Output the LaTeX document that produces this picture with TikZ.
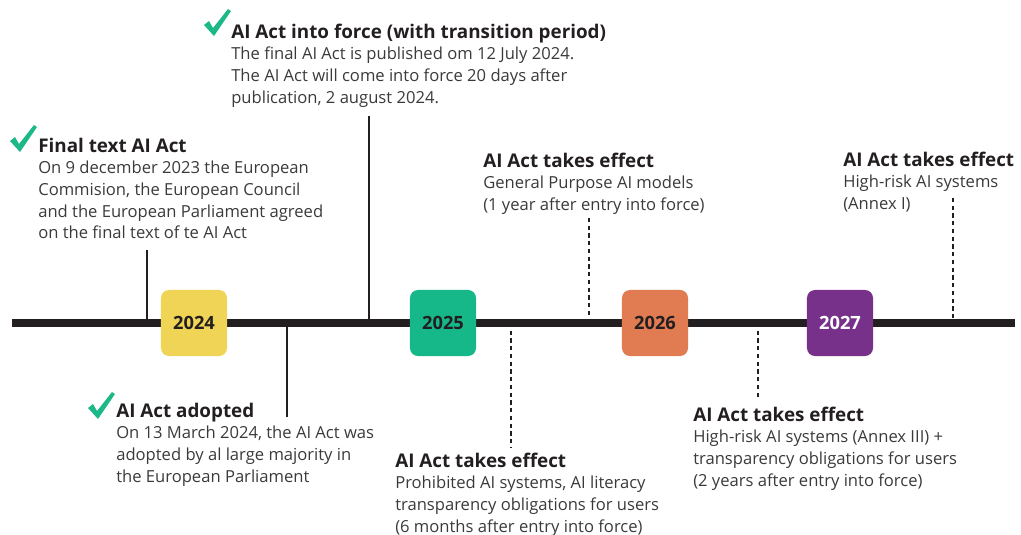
\documentclass[tikz,border=0pt]{standalone}
\usepackage{fontspec}
\setmainfont{Open Sans}
\usetikzlibrary{positioning}
\definecolor{ink}{HTML}{231F20}
\definecolor{bodygray}{HTML}{3A3A3A}
\definecolor{checkgreen}{HTML}{1DB887}
\definecolor{yr24}{HTML}{F0D455}
\definecolor{yr25}{HTML}{16B88A}
\definecolor{yr26}{HTML}{E07B52}
\definecolor{yr27}{HTML}{77318A}
\newcommand{\head}[1]{{\rule{0pt}{11.3pt}\fontsize{13.4}{15.4}\selectfont\bfseries\color{ink}#1}}
\tikzset{okmark/.pic={\fill[checkgreen] (0,16) -- (5,12) -- (9,19) -- (24,0) -- (27,2) -- (10,27) -- cycle;}}
\begin{document}
\begin{tikzpicture}[x=0.025cm, y=-0.025cm,
  year/.style={rounded corners=2mm, minimum size=1.65cm, inner sep=0pt, font=\fontsize{13}{15}\selectfont\bfseries, text=ink},
  event/.style={anchor=north west, align=left, inner sep=0pt, text=bodygray, font=\fontsize{11.8}{15.4}\selectfont},
  tick/.style={line width=1.1pt, draw=ink},
  dtick/.style={tick, dash pattern=on 3pt off 2.5pt}]
\useasboundingbox (0,0) rectangle (1021,534);
\coordinate (start) at (12,323);
\coordinate (end) at (1015,323);
\draw[ink, line width=5pt] (start) -- (end);
\node[year, fill=yr24] at (194,323) (y24) {2024};
\node[year, fill=yr25] at (443,323) (y25) {2025};
\node[year, fill=yr26] at (655,323) (y26) {2026};
\node[year, fill=yr27, text=white] at (840,323) (y27) {2027};
\coordinate (p1) at (147,323); \coordinate (e1) at (147,250);
\coordinate (p2) at (369,323); \coordinate (e2) at (369,116);
\coordinate (p3) at (287,323); \coordinate (e3) at (287,417);
\coordinate (p4) at (511,323); \coordinate (e4) at (511,448);
\coordinate (p5) at (589,323); \coordinate (e5) at (589,218);
\coordinate (p6) at (758,323); \coordinate (e6) at (758,397);
\coordinate (p7) at (953,323); \coordinate (e7) at (953,198);
\draw[tick] (e1) -- (p1);
\draw[tick] (e2) -- (p2);
\draw[tick] (p3) -- (e3);
\draw[dtick] (p4) -- (e4);
\draw[dtick] (e5) -- (p5);
\draw[dtick] (p6) -- (e6);
\draw[dtick] (e7) -- (p7);
\pic at (10,125) {okmark};
\pic at (204,9) {okmark};
\pic at (88,392) {okmark};
\node[event] at (38,136) (final) {\head{Final text AI Act}\\On 9 december 2023 the European\\Commision, the European Council\\and the European Parliament agreed\\on the final text of te AI Act};
\node[event] at (231,22) (force) {\head{AI Act into force (with transition period)}\\The final AI Act is published om 12 July 2024.\\The AI Act will come into force 20 days after\\publication, 2 august 2024.};
\node[event] at (116,401) (adopted) {\head{AI Act adopted}\\On 13 March 2024, the AI Act was\\adopted by al large majority in\\the European Parliament};
\node[event] at (395,451) (prohib) {\head{AI Act takes effect}\\Prohibited AI systems, AI literacy\\transparency obligations for users\\(6 months after entry into force)};
\node[event] at (483,151) (gpai) {\head{AI Act takes effect}\\General Purpose AI models\\(1 year after entry into force)};
\node[event] at (693,405) (annex3) {\head{AI Act takes effect}\\High-risk AI systems (Annex III) +\\transparency obligations for users\\(2 years after entry into force)};
\node[event] at (843,150) (annex1) {\head{AI Act takes effect}\\High-risk AI systems\\(Annex I)};
\end{tikzpicture}
\end{document}
